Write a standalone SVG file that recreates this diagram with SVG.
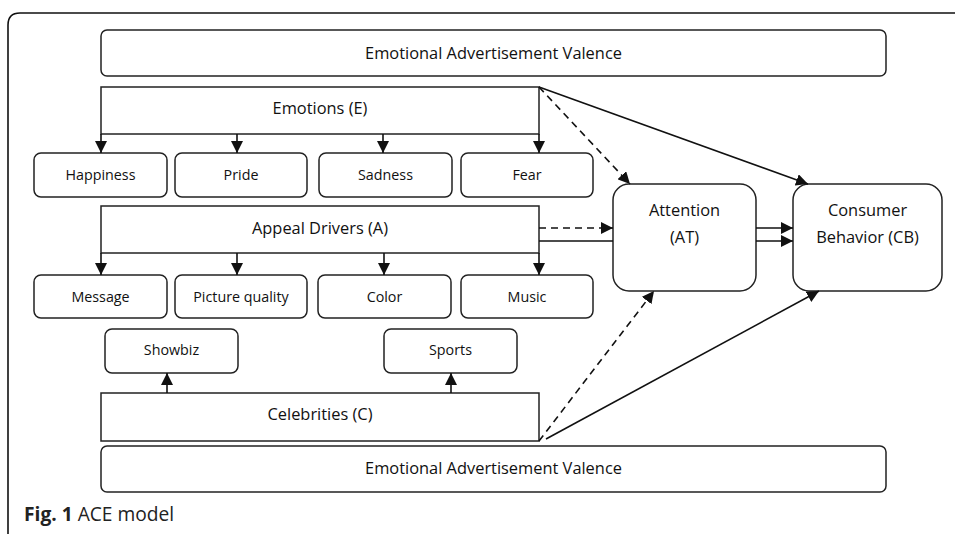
<svg xmlns="http://www.w3.org/2000/svg" width="955" height="534" viewBox="0 0 955 534">
<style>
.box{fill:#fff;stroke:#222;stroke-width:1.5}
.t{font-family:"Open Sans","Liberation Sans",sans-serif;font-size:14.3px;fill:#111;text-anchor:middle;dominant-baseline:central}
.big{font-size:16.4px}
.ln{fill:none;stroke:#111;stroke-width:1.6}
.dash{fill:none;stroke:#111;stroke-width:1.6;stroke-dasharray:7 5}
.cap{font-family:"Open Sans","Liberation Sans",sans-serif;font-size:19.2px;fill:#222}
</style>
<defs>
<marker id="ah" viewBox="0 0 10 10" refX="10" refY="5" markerWidth="7.5" markerHeight="7.5" orient="auto" markerUnits="strokeWidth">
<path d="M0,0 L10,5 L0,10 Z" fill="#111"/>
</marker>
</defs>
<path d="M8,534 L8,25 Q8,13 20,13 L955,13" class="ln" stroke-width="1.8"/>
<g id="valence-top"><rect class="box" x="101" y="30" width="785" height="46" rx="6"/><text class="t big" x="493.5" y="52">Emotional Advertisement Valence</text></g>
<g id="emotions"><rect class="box" x="101" y="87" width="438" height="47"/><text class="t big" x="320" y="107">Emotions (E)</text></g>
<g id="happiness"><rect class="box" x="34" y="153" width="133" height="44" rx="7"/><text class="t" x="100.5" y="174.5">Happiness</text></g>
<g id="pride"><rect class="box" x="175" y="153" width="132" height="44" rx="7"/><text class="t" x="241" y="174.5">Pride</text></g>
<g id="sadness"><rect class="box" x="319" y="153" width="133" height="44" rx="7"/><text class="t" x="385.5" y="174.5">Sadness</text></g>
<g id="fear"><rect class="box" x="461" y="153" width="132" height="44" rx="7"/><text class="t" x="527" y="174.5">Fear</text></g>
<g id="appeal"><rect class="box" x="101" y="206" width="438" height="47"/><text class="t big" x="320" y="227">Appeal Drivers (A)</text></g>
<g id="message"><rect class="box" x="34" y="275" width="133" height="43" rx="7"/><text class="t" x="100.5" y="296">Message</text></g>
<g id="picture"><rect class="box" x="175" y="275" width="132" height="43" rx="7"/><text class="t" x="241" y="296">Picture quality</text></g>
<g id="color"><rect class="box" x="318" y="275" width="133" height="43" rx="7"/><text class="t" x="384.5" y="296">Color</text></g>
<g id="music"><rect class="box" x="461" y="275" width="132" height="43" rx="7"/><text class="t" x="527" y="296">Music</text></g>
<g id="showbiz"><rect class="box" x="105" y="329" width="133" height="44" rx="7"/><text class="t" x="171.5" y="349.5">Showbiz</text></g>
<g id="sports"><rect class="box" x="384" y="329" width="133" height="44" rx="7"/><text class="t" x="450.5" y="349.5">Sports</text></g>
<g id="celebrities"><rect class="box" x="101" y="393" width="438" height="48"/><text class="t big" x="320" y="413">Celebrities (C)</text></g>
<g id="valence-bottom"><rect class="box" x="101" y="446" width="785" height="46" rx="6"/><text class="t big" x="493.5" y="467">Emotional Advertisement Valence</text></g>
<g id="attention"><rect class="box" x="613" y="184" width="143" height="107" rx="16"/><text class="t big" x="684.5" y="209">Attention</text><text class="t big" x="684.5" y="236">(AT)</text></g>
<g id="consumer"><rect class="box" x="793" y="184" width="149" height="107" rx="16"/><text class="t big" x="867.5" y="209">Consumer</text><text class="t big" x="867.5" y="236">Behavior (CB)</text></g>
<g id="connectors">
<line class="ln" x1="101" y1="134" x2="101" y2="153" marker-end="url(#ah)"/>
<line class="ln" x1="237" y1="134" x2="237" y2="153" marker-end="url(#ah)"/>
<line class="ln" x1="383" y1="134" x2="383" y2="153" marker-end="url(#ah)"/>
<line class="ln" x1="539" y1="134" x2="539" y2="153" marker-end="url(#ah)"/>
<line class="ln" x1="101" y1="253" x2="101" y2="275" marker-end="url(#ah)"/>
<line class="ln" x1="237" y1="253" x2="237" y2="275" marker-end="url(#ah)"/>
<line class="ln" x1="384" y1="253" x2="384" y2="275" marker-end="url(#ah)"/>
<line class="ln" x1="539" y1="253" x2="539" y2="275" marker-end="url(#ah)"/>
<line class="ln" x1="167" y1="393" x2="167" y2="373" marker-end="url(#ah)"/>
<line class="ln" x1="451" y1="393" x2="451" y2="373" marker-end="url(#ah)"/>
<line class="dash" x1="539" y1="87" x2="630" y2="184" marker-end="url(#ah)"/>
<line class="ln" x1="539" y1="87" x2="808" y2="184" marker-end="url(#ah)"/>
<line class="dash" x1="539" y1="228" x2="613" y2="228" marker-end="url(#ah)"/>
<line class="ln" x1="539" y1="241" x2="613" y2="241"/>
<line class="ln" x1="756" y1="228" x2="793" y2="228" marker-end="url(#ah)"/>
<line class="ln" x1="756" y1="241" x2="793" y2="241" marker-end="url(#ah)"/>
<line class="dash" x1="539" y1="441" x2="654" y2="291" marker-end="url(#ah)"/>
<line class="ln" x1="546" y1="439" x2="819" y2="291" marker-end="url(#ah)"/>
</g>
<text class="cap" x="24" y="521"><tspan font-weight="bold">Fig. 1</tspan> ACE model</text>
</svg>
